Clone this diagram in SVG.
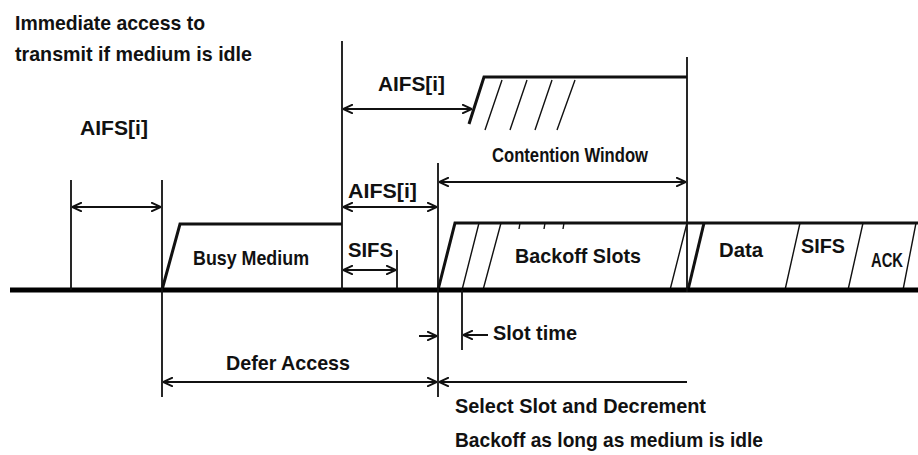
<svg xmlns="http://www.w3.org/2000/svg" width="918" height="455" viewBox="0 0 918 455">
<style>
text{font-family:"Liberation Sans",Arial,sans-serif;font-weight:bold;fill:#111;font-size:21px}
.ln{stroke:#111;fill:none;stroke-width:1.8}
.th{stroke:#111;fill:none;stroke-width:3}
.hz{stroke:#111;fill:none;stroke-width:1.4}
.base{stroke:#000;fill:none;stroke-width:5}
.ar{stroke:#111;fill:none;stroke-width:2}
</style>
<defs>
<marker id="ah" viewBox="0 0 10 10" refX="10" refY="5" markerWidth="10" markerHeight="10" markerUnits="userSpaceOnUse" orient="auto-start-reverse">
<path d="M0,0.5 L10,5 L0,9.5" fill="none" stroke="#111" stroke-width="2"/>
</marker>
</defs>
<rect width="918" height="455" fill="#fff"/>

<g id="texts">
<text x="15" y="30" textLength="190" lengthAdjust="spacingAndGlyphs">Immediate access to</text>
<text x="15" y="61" textLength="237" lengthAdjust="spacingAndGlyphs">transmit if medium is idle</text>
<text x="80" y="135" textLength="68" lengthAdjust="spacingAndGlyphs">AIFS[i]</text>
<text x="378" y="91" textLength="67" lengthAdjust="spacingAndGlyphs">AIFS[i]</text>
<text x="348" y="198" textLength="69" lengthAdjust="spacingAndGlyphs">AIFS[i]</text>
<text x="492" y="162" textLength="156" lengthAdjust="spacingAndGlyphs">Contention Window</text>
<text x="193" y="265" font-size="22" textLength="116" lengthAdjust="spacingAndGlyphs">Busy Medium</text>
<text x="348" y="257" font-size="22" textLength="45" lengthAdjust="spacingAndGlyphs">SIFS</text>
<text x="515" y="263" font-size="23" textLength="126" lengthAdjust="spacingAndGlyphs">Backoff Slots</text>
<text x="719" y="257" font-size="22" textLength="44" lengthAdjust="spacingAndGlyphs">Data</text>
<text x="801" y="253" font-size="22" textLength="44" lengthAdjust="spacingAndGlyphs">SIFS</text>
<text x="871" y="267" font-size="22" textLength="32" lengthAdjust="spacingAndGlyphs">ACK</text>
<text x="226" y="370" font-size="22" textLength="124" lengthAdjust="spacingAndGlyphs">Defer Access</text>
<text x="493" y="340" textLength="84" lengthAdjust="spacingAndGlyphs">Slot time</text>
<text x="455" y="413" textLength="251" lengthAdjust="spacingAndGlyphs">Select Slot and Decrement</text>
<text x="455" y="447" textLength="308" lengthAdjust="spacingAndGlyphs">Backoff as long as medium is idle</text>
</g>

<g id="busy-medium">
<path class="th" d="M162,290 L180,224 H342"/>
</g>

<g id="contention-window">
<path class="th" d="M469,124 L484,77 H687"/>
<path class="hz" d="M485,130 L502,80 M510,130 L527,80 M535,130 L552,80 M557,130 L575,80"/>
</g>

<g id="backoff-slots">
<path class="th" d="M438,290 L455,223 H918"/>
<path class="hz" d="M462,290 L479,223 M483,290 L501,223 M670,290 L687,223 M520,223 L519,229 M545,223 L544,229 M564,223 L563,229"/>
</g>

<g id="data-ack">
<path class="th" d="M688,290 L704,223"/>
<path class="hz" d="M785,290 L800,223 M848,290 L863,223 M903,290 L916,223"/>
</g>

<g id="timeline">
<path class="base" d="M10,290 H918"/>
<path class="ln" d="M71,180 V290 M162,180 V397 M342,41 V290 M438,163 V397 M687,57 V292 M397,250 V288 M462,290 V350"/>
</g>

<g id="connectors">
<path class="ar" d="M72,207 H161" marker-start="url(#ah)" marker-end="url(#ah)"/>
<path class="ar" d="M343,109 H472" marker-start="url(#ah)" marker-end="url(#ah)"/>
<path class="ar" d="M343,207 H437" marker-start="url(#ah)" marker-end="url(#ah)"/>
<path class="ar" d="M439,182 H686" marker-start="url(#ah)" marker-end="url(#ah)"/>
<path class="ar" d="M343,270 H396" marker-start="url(#ah)" marker-end="url(#ah)"/>
<path class="ar" d="M163,382 H437" marker-start="url(#ah)" marker-end="url(#ah)"/>
<path class="ar" d="M439,382 H687" marker-start="url(#ah)"/>
<path class="ar" d="M463,335 H488" marker-start="url(#ah)"/>
<path class="ar" d="M419,336 H437" marker-end="url(#ah)"/>
</g>
</svg>
